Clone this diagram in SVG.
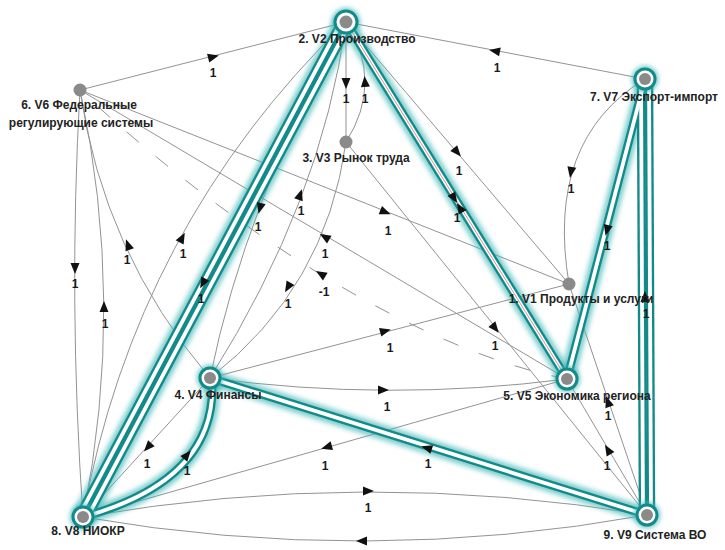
<svg xmlns="http://www.w3.org/2000/svg" width="725" height="550" viewBox="0 0 725 550">
<defs>
<filter id="glow" x="-30%" y="-30%" width="160%" height="160%"><feGaussianBlur stdDeviation="2.5"/></filter>
<path id="ah" d="M6,0 L-5,-4.5 L-5,4.5 Z" fill="#111"/>
<path id="t25" d="M346,22 L567,379"/>
<path id="t75" d="M645,79 L567,379"/>
<path id="t79a" d="M641,79 L643,515"/>
<path id="t79b" d="M649,79 L651,515"/>
<path id="t94" d="M647,515 L210,378"/>
<path id="t84" d="M83,517 Q218,480 212,380"/>
<path id="t28a" d="M342.5,20 L79.5,515"/>
<path id="t28b" d="M349.5,24 L86.5,519"/>
</defs>
<style>
.e{fill:none;stroke:#939393;stroke-width:1}
.d{stroke-dasharray:16 22}
.h0{fill:none;stroke:#45b8b8;stroke-width:15;opacity:.7;filter:url(#glow)}
.h1{fill:none;stroke:#128a8a;stroke-width:8.5}
.h2{fill:none;stroke:#fff;stroke-width:3.8}
.hr{fill:none;stroke:#c77;stroke-width:.8}
.lb{font-family:"Liberation Sans",Arial,sans-serif;font-size:12px;font-weight:bold;fill:#1a1a1a;text-anchor:middle}
.nl{font-family:"Liberation Sans",Arial,sans-serif;font-size:12px;font-weight:bold;fill:#222;text-anchor:middle}
.ng{fill:#45b8b8;opacity:.8;filter:url(#glow)}
.nr{fill:#fff;stroke:#128a8a;stroke-width:3}
.nd{fill:#8a8a8a}
</style>
<rect width="725" height="550" fill="#fff"/>
<g id="connectors">
<path class="e" d="M80,90 L346,22"/>
<path class="e" d="M645,79 L346,22"/>
<path class="e" d="M346,22 L346,142"/>
<path class="e" d="M346,142 Q384,82 346,22"/>
<path class="e" d="M346,22 L569,284"/>
<path class="e" d="M80,90 L569,284"/>
<path class="e" d="M567,379 L80,90"/>
<path class="e d" d="M567,379 C417,350 230,230 80,90"/>
<path class="e" d="M210,378 Q103,252 80,90"/>
<path class="e" d="M80,90 Q68,300 83,517"/>
<path class="e" d="M83,517 Q126,303 80,90"/>
<path class="e" d="M83,517 Q135,227 346,22"/>
<path class="e" d="M346,22 Q245,205 210,378"/>
<path class="e" d="M210,378 Q322,200 346,22"/>
<path class="e" d="M346,142 Q326,288 210,378"/>
<path class="e" d="M210,378 L569,284"/>
<path class="e" d="M210,378 Q388,402 567,379"/>
<path class="e" d="M210,378 L83,517"/>
<path class="e" d="M567,379 L83,517"/>
<path class="e" d="M83,517 Q365,468 647,515"/>
<path class="e" d="M647,515 Q365,566 83,517"/>
<path class="e" d="M346,142 L647,515"/>
<path class="e" d="M647,515 L567,379"/>
<path class="e" d="M647,515 L569,284"/>
<path class="e" d="M645,79 Q545,140 569,284"/>
<g id="highlighted">
<use href="#t25" class="h0"/><use href="#t75" class="h0"/><use href="#t79a" class="h0"/><use href="#t79b" class="h0"/><use href="#t94" class="h0"/><use href="#t84" class="h0"/><use href="#t28a" class="h0"/><use href="#t28b" class="h0"/>
<use href="#t25" class="h1"/><use href="#t75" class="h1"/><use href="#t79a" class="h1"/><use href="#t79b" class="h1"/><use href="#t94" class="h1"/><use href="#t84" class="h1"/><use href="#t28a" class="h1"/><use href="#t28b" class="h1"/>
<use href="#t25" class="h2"/><use href="#t75" class="h2"/><use href="#t79a" class="h2"/><use href="#t79b" class="h2"/><use href="#t94" class="h2"/><use href="#t84" class="h2"/><use href="#t28a" class="h2"/><use href="#t28b" class="h2"/>
<use href="#t25" class="hr"/>
</g>
<g id="arrows">
<use href="#ah" transform="translate(213,57) rotate(-14.3)"/>
<use href="#ah" transform="translate(495,51) rotate(190.8)"/>
<use href="#ah" transform="translate(346,83) rotate(90)"/>
<use href="#ah" transform="translate(365,82) rotate(-95)"/>
<use href="#ah" transform="translate(457,152) rotate(49.6)"/>
<use href="#ah" transform="translate(454,198) rotate(58.2)"/>
<use href="#ah" transform="translate(460,208) rotate(238.2)"/>
<use href="#ah" transform="translate(385,212) rotate(21.6)"/>
<use href="#ah" transform="translate(325,237) rotate(210.7)"/>
<use href="#ah" transform="translate(321,274) rotate(211)"/>
<use href="#ah" transform="translate(128,245) rotate(-110)"/>
<use href="#ah" transform="translate(75,268) rotate(90)"/>
<use href="#ah" transform="translate(104,307) rotate(-90)"/>
<use href="#ah" transform="translate(182,238) rotate(-62)"/>
<use href="#ah" transform="translate(203,283) rotate(118)"/>
<use href="#ah" transform="translate(260,208) rotate(105)"/>
<use href="#ah" transform="translate(300,195) rotate(-72)"/>
<use href="#ah" transform="translate(288,287) rotate(120)"/>
<use href="#ah" transform="translate(385,331) rotate(-14.7)"/>
<use href="#ah" transform="translate(383,390) rotate(0)"/>
<use href="#ah" transform="translate(148,447) rotate(132.4)"/>
<use href="#ah" transform="translate(187,455) rotate(-50)"/>
<use href="#ah" transform="translate(327,447) rotate(164.1)"/>
<use href="#ah" transform="translate(427,448) rotate(197.4)"/>
<use href="#ah" transform="translate(368,491) rotate(0)"/>
<use href="#ah" transform="translate(362,541) rotate(180)"/>
<use href="#ah" transform="translate(495,328) rotate(51.1)"/>
<use href="#ah" transform="translate(608,450) rotate(-120.5)"/>
<use href="#ah" transform="translate(608,402) rotate(-108.7)"/>
<use href="#ah" transform="translate(571,172) rotate(100)"/>
<use href="#ah" transform="translate(607,230) rotate(104.6)"/>
<use href="#ah" transform="translate(645,297) rotate(-90)"/>
</g>
<g id="edge-labels">
<text class="lb" x="213" y="77">1</text>
<text class="lb" x="497" y="72">1</text>
<text class="lb" x="346" y="103">1</text>
<text class="lb" x="365" y="103">1</text>
<text class="lb" x="459" y="175">1</text>
<text class="lb" x="457" y="222">1</text>
<text class="lb" x="388" y="235">1</text>
<text class="lb" x="325" y="258">1</text>
<text class="lb" x="324" y="296">-1</text>
<text class="lb" x="127" y="264">1</text>
<text class="lb" x="75" y="288">1</text>
<text class="lb" x="105" y="328">1</text>
<text class="lb" x="183" y="258">1</text>
<text class="lb" x="201" y="303">1</text>
<text class="lb" x="258" y="231">1</text>
<text class="lb" x="301" y="215">1</text>
<text class="lb" x="288" y="308">1</text>
<text class="lb" x="390" y="352">1</text>
<text class="lb" x="387" y="411">1</text>
<text class="lb" x="147" y="468">1</text>
<text class="lb" x="187" y="475">1</text>
<text class="lb" x="325" y="470">1</text>
<text class="lb" x="428" y="468">1</text>
<text class="lb" x="368" y="512">1</text>
<text class="lb" x="495" y="350">1</text>
<text class="lb" x="607" y="470">1</text>
<text class="lb" x="608" y="420">1</text>
<text class="lb" x="571" y="193">1</text>
<text class="lb" x="607" y="250">1</text>
<text class="lb" x="646" y="318">1</text>
</g>
</g>
<g id="v1"><circle class="nd" cx="569" cy="284" r="6.5"/><text class="nl" x="581" y="303">1. V1 Продукты и услуги</text></g>
<g id="v2"><circle class="ng" cx="346" cy="22" r="14"/><circle class="nr" cx="346" cy="22" r="11"/><circle class="nd" cx="346" cy="22" r="6.5"/><text class="nl" x="357" y="43">2. V2 Производство</text></g>
<g id="v3"><circle class="nd" cx="346" cy="142" r="6.5"/><text class="nl" x="356" y="162">3. V3 Рынок труда</text></g>
<g id="v4"><circle class="ng" cx="210" cy="378" r="13"/><circle class="nr" cx="210" cy="378" r="10"/><circle class="nd" cx="210" cy="378" r="6"/><text class="nl" x="218" y="399">4. V4 Финансы</text></g>
<g id="v5"><circle class="ng" cx="567" cy="379" r="13"/><circle class="nr" cx="567" cy="379" r="10"/><circle class="nd" cx="567" cy="379" r="6"/><text class="nl" x="577" y="400">5. V5 Экономика региона</text></g>
<g id="v6"><circle class="nd" cx="80" cy="90" r="6.5"/><text class="nl" x="79" y="109">6. V6 Федеральные</text><text class="nl" x="81" y="127">регулирующие системы</text></g>
<g id="v7"><circle class="ng" cx="645" cy="79" r="13"/><circle class="nr" cx="645" cy="79" r="10"/><circle class="nd" cx="645" cy="79" r="6"/><text class="nl" x="654" y="101">7. V7 Экспорт-импорт</text></g>
<g id="v8"><circle class="ng" cx="83" cy="517" r="13"/><circle class="nr" cx="83" cy="517" r="10"/><circle class="nd" cx="83" cy="517" r="6"/><text class="nl" x="88" y="535">8. V8 НИОКР</text></g>
<g id="v9"><circle class="ng" cx="647" cy="515" r="13"/><circle class="nr" cx="647" cy="515" r="10"/><circle class="nd" cx="647" cy="515" r="6"/><text class="nl" x="655" y="539">9. V9 Система ВО</text></g>
</svg>
